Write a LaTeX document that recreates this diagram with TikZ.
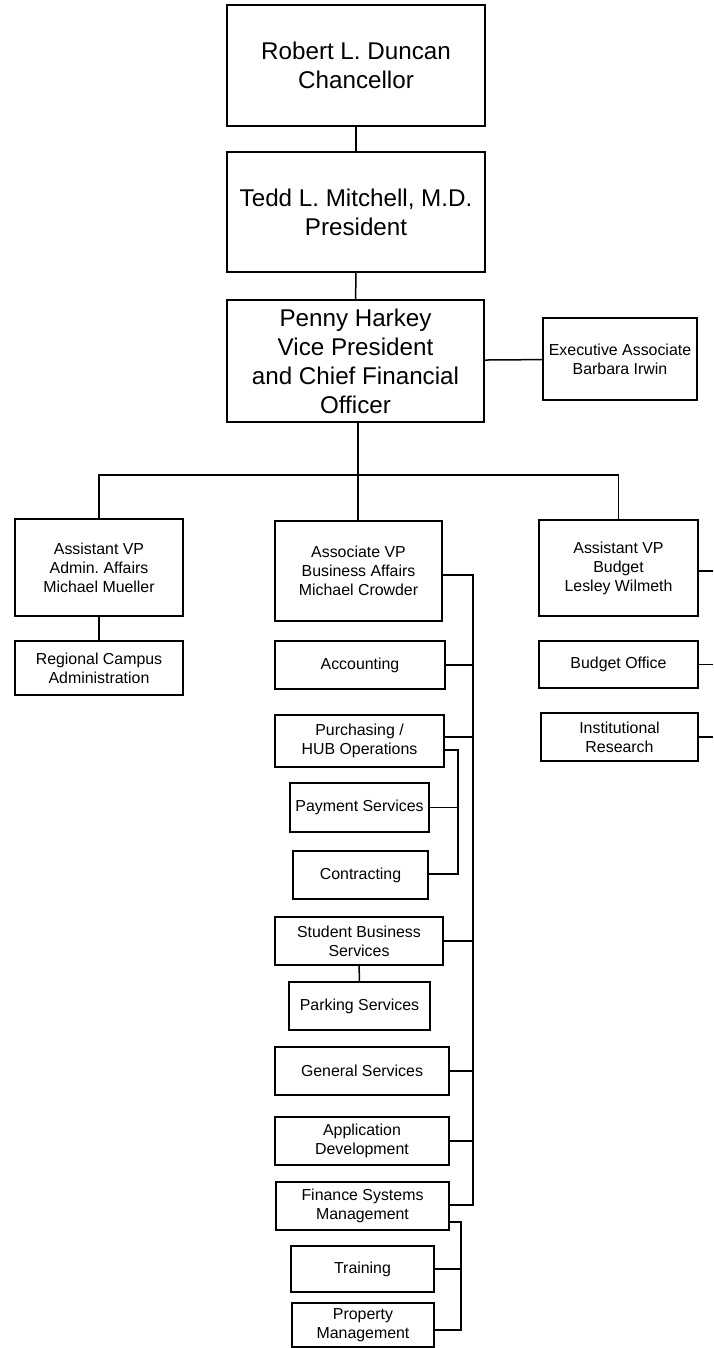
\documentclass[tikz,border=0pt]{standalone}
\usepackage{fontspec}
\setmainfont{Liberation Sans}
\frenchspacing
\usepackage{tikz}
\usetikzlibrary{positioning, calc}
\tikzset{
    % Top level office (large text)
    bigbox/.style={rectangle, draw=black, line width=1.5pt, inner sep=0pt,
        minimum width=258pt, minimum height=121pt, align=center,
        font=\fontsize{24.2}{29}\selectfont},
    % Unit / department box
    unitbox/.style={rectangle, draw=black, line width=1.5pt, inner sep=0pt,
        minimum width=168pt, minimum height=48pt, align=center,
        font=\fontsize{15.9}{19}\selectfont},
    % Reporting line
    orgline/.style={line width=1.5pt, black},
}

\begin{document}
\begin{tikzpicture}[x=1pt, y=-1pt]
    \useasboundingbox (0,0) rectangle (713,1348);
    % top of the chart
    \node[bigbox] (chancellor) at (356,65.5) {Robert L. Duncan\\Chancellor};
    \node[bigbox, minimum height=120pt] (president) at (356,212) {Tedd L. Mitchell, M.D.\\President};
    \node[bigbox, minimum width=257pt, minimum height=122pt] (cfo) at (355.5,361) {Penny Harkey\\Vice President\\and Chief Financial\\Officer};
    \node[unitbox, minimum width=154pt, minimum height=82pt] (execassoc) at (620,359) {Executive Associate\\Barbara Irwin};
    % the three assistant / associate VPs
    \node[unitbox, minimum height=97pt] (avpadmin) at (99,567.5) {Assistant VP\\Admin. Affairs\\Michael Mueller};
    \node[unitbox, minimum width=167pt, minimum height=100pt] (avpbusiness) at (358.5,571) {Associate VP\\Business Affairs\\Michael Crowder};
    \node[unitbox, minimum width=159pt, minimum height=96pt] (avpbudget) at (618.5,568) {Assistant VP\\Budget\\Lesley Wilmeth};
    % admin affairs
    \node[unitbox, minimum height=54pt] (regional) at (99,668) {Regional Campus\\Administration};
    % business affairs
    \node[unitbox, minimum width=170pt] (accounting) at (360,665) {Accounting};
    \node[unitbox, minimum width=169pt, minimum height=52pt] (purchasing) at (359.5,741) {Purchasing /\\HUB Operations};
    \node[unitbox, minimum width=139pt, minimum height=49pt] (payment) at (359.5,807.5) {Payment Services};
    \node[unitbox, minimum width=135pt] (contracting) at (360.5,875) {Contracting};
    \node[unitbox] (studentbus) at (359,941) {Student Business\\Services};
    \node[unitbox, minimum width=141pt] (parking) at (359.5,1006) {Parking Services};
    \node[unitbox, minimum width=174pt] (general) at (362,1071) {General Services};
    \node[unitbox, minimum width=174pt] (appdev) at (362,1141) {Application\\Development};
    \node[unitbox, minimum width=173pt] (finsys) at (362.5,1206) {Finance Systems\\Management};
    \node[unitbox, minimum width=143pt, minimum height=46pt] (training) at (362.5,1269) {Training};
    \node[unitbox, minimum width=142pt, minimum height=44pt] (property) at (363,1325) {Property\\Management};
    % budget
    \node[unitbox, minimum width=159pt, minimum height=47pt] (budgetoffice) at (618.5,664.5) {Budget Office};
    \node[unitbox, minimum width=157pt] (instresearch) at (619.5,737) {Institutional\\Research};

    % helper points
    \coordinate (vpbus) at (358,475);
    \coordinate (spinetop) at (473,575);
    \coordinate (spinebot) at (473,1205);
    \coordinate (purchbus) at (458,874);
    \coordinate (finsysbus) at (461,1330);
    \coordinate (rightedge) at (713,0);

    % lines
    \draw[orgline] (chancellor) -- (president);
    \draw[orgline] (president) -- (cfo);
    \draw[orgline] (cfo) -- (execassoc);
    \draw[orgline] (cfo.south -| vpbus) -- (avpbusiness.north -| vpbus);
    \draw[orgline] (avpadmin.north) |- (vpbus) -| (avpbudget.north);
    \draw[orgline] (avpadmin) -- (regional);
    \draw[orgline] (avpbusiness.east |- spinetop) -- (spinetop) -- (spinebot) -- (finsys.east |- spinebot);
    \foreach \unit in {accounting, studentbus, general, appdev}
        \draw[orgline] (\unit.east) -- (\unit.east -| spinetop);
    \draw[orgline] ([yshift=4pt]purchasing.east) -- ([yshift=4pt]purchasing.east -| spinetop);
    \draw[orgline] ([yshift=-9pt]purchasing.east) -| (purchbus) -- (contracting.east |- purchbus);
    \draw[orgline] (payment.east) -- (payment.east -| purchbus);
    \draw[orgline] (studentbus) -- (parking);
    \draw[orgline] ([yshift=-16pt]finsys.east) -| (finsysbus) -- (property.east |- finsysbus);
    \draw[orgline] (training.east) -- (training.east -| finsysbus);
    \draw[orgline] ([yshift=-3pt]avpbudget.east) -- ([yshift=-3pt]avpbudget.east -| rightedge);
    \draw[orgline] (budgetoffice.east) -- (budgetoffice.east -| rightedge);
    \draw[orgline] (instresearch.east) -- (instresearch.east -| rightedge);
\end{tikzpicture}
\end{document}
